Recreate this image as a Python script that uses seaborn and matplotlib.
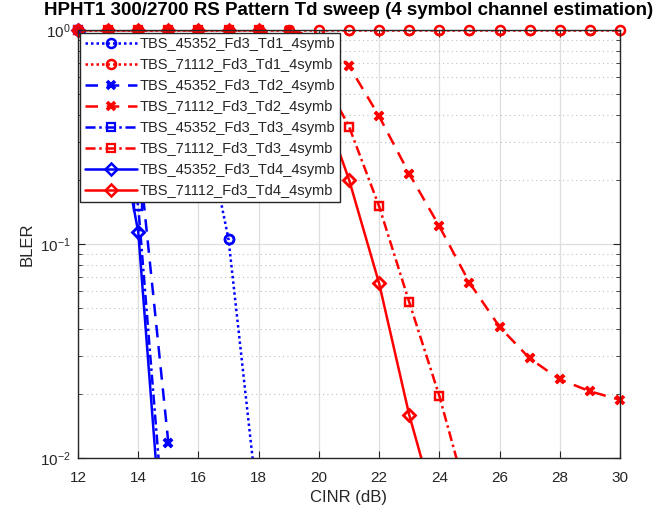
import numpy as np
import pandas as pd
import matplotlib
matplotlib.use("Agg")
import matplotlib.pyplot as plt
import seaborn as sns

# ---------------- data ----------------
title = "HPHT1 300/2700 RS Pattern Td sweep (4 symbol channel estimation)"
xlabel = "CINR (dB)"
ylabel = "BLER"

labels = [
    "TBS_45352_Fd3_Td1_4symb",
    "TBS_71112_Fd3_Td1_4symb",
    "TBS_45352_Fd3_Td2_4symb",
    "TBS_71112_Fd3_Td2_4symb",
    "TBS_45352_Fd3_Td3_4symb",
    "TBS_71112_Fd3_Td3_4symb",
    "TBS_45352_Fd3_Td4_4symb",
    "TBS_71112_Fd3_Td4_4symb",
]

cinr_b_td1 = [12, 13, 14, 15, 16, 17, 18]
bler_b_td1 = [1.0, 1.0, 1.0, 1.0, 0.52, 0.105, 0.0055]

cinr_r_td1 = list(range(12, 31))
bler_r_td1 = [1.0] * 19

cinr_b_td2 = [12, 13, 14, 15]
bler_b_td2 = [1.0, 0.85, 0.28, 0.0118]

cinr_r_td2 = list(range(12, 31))
bler_r_td2 = [1.0, 1.0, 1.0, 1.0, 1.0, 1.0, 1.0, 1.0, 0.92, 0.68, 0.395,
              0.213, 0.121, 0.066, 0.041, 0.0292, 0.0233, 0.0205, 0.0187]

cinr_b_td3 = [12, 13, 14, 15]
bler_b_td3 = [1.0, 0.7, 0.15, 0.0027]

cinr_r_td3 = [12, 13, 14, 15, 16, 17, 18, 19, 20, 21, 22, 23, 24, 25]
bler_r_td3 = [1.0, 1.0, 1.0, 1.0, 1.0, 1.0, 1.0, 0.9, 0.65, 0.354, 0.15,
              0.0535, 0.0195, 0.006]

cinr_b_td4 = [12, 13, 14, 15]
bler_b_td4 = [1.0, 0.64, 0.114, 0.0017]

cinr_r_td4 = [12, 13, 14, 15, 16, 17, 18, 19, 20, 21, 22, 23, 24]
bler_r_td4 = [1.0, 1.0, 1.0, 1.0, 1.0, 1.0, 1.0, 0.85, 0.5, 0.2, 0.0655,
              0.0159, 0.005]

xticks = [12, 14, 16, 18, 20, 22, 24, 26, 28, 30]

series = [
    (cinr_b_td1, bler_b_td1),
    (cinr_r_td1, bler_r_td1),
    (cinr_b_td2, bler_b_td2),
    (cinr_r_td2, bler_r_td2),
    (cinr_b_td3, bler_b_td3),
    (cinr_r_td3, bler_r_td3),
    (cinr_b_td4, bler_b_td4),
    (cinr_r_td4, bler_r_td4),
]

# ---------------- styles ----------------
blue = "#0000ff"
red = "#ff0000"
dot = (0, (1, 1.2))
dash = (0, (5, 3.5))
dashdot = (0, (4, 1.5, 1, 1.5))
styles = [
    dict(color=blue, linestyle=dot, marker="o", ms=6.5, mew=1.8),
    dict(color=red, linestyle=dot, marker="o", ms=6.5, mew=1.8),
    dict(color=blue, linestyle=dash, marker="x", ms=5.5, mew=2.6),
    dict(color=red, linestyle=dash, marker="x", ms=5.5, mew=2.6),
    dict(color=blue, linestyle=dashdot, marker="s", ms=6, mew=1.6),
    dict(color=red, linestyle=dashdot, marker="s", ms=6, mew=1.6),
    dict(color=blue, linestyle="-", marker="D", ms=6, mew=1.8),
    dict(color=red, linestyle="-", marker="D", ms=6, mew=1.8),
]

sns.set_theme(style="ticks")
plt.rcParams["font.family"] = ["Liberation Sans", "DejaVu Sans"]
plt.rcParams["mathtext.default"] = "regular"

fig = plt.figure(figsize=(6.64, 5.14), dpi=100)
ax = fig.add_axes([78 / 664, 56 / 514, 542 / 664, 428 / 514])

ymin = 0.01
for (xs, ys), st, lab in zip(series, styles, labels):
    df = pd.DataFrame({"x": xs, "y": ys})
    sns.lineplot(data=df, x="x", y="y", ax=ax, color=st["color"],
                 linestyle=st["linestyle"], marker=st["marker"],
                 markerfacecolor="none", markeredgecolor=st["color"],
                 markersize=st["ms"], markeredgewidth=st["mew"], linewidth=1.8,
                 label=lab, sort=False, estimator=None)
    vis = df[df["y"] >= ymin]
    sns.lineplot(data=vis, x="x", y="y", ax=ax, color=st["color"],
                 linestyle="", marker=st["marker"],
                 markerfacecolor="none", markeredgecolor=st["color"],
                 markersize=st["ms"], markeredgewidth=st["mew"], clip_on=False,
                 sort=False, estimator=None, legend=False)

ax.set_yscale("log")
ax.set_xlim(12, 30)
ax.set_ylim(0.01, 1)
ax.set_xticks(xticks)
ax.set_xticklabels([str(t) for t in xticks])
ax.yaxis.set_major_locator(matplotlib.ticker.LogLocator(base=10, numticks=5))
ax.yaxis.set_minor_locator(matplotlib.ticker.LogLocator(base=10, subs=np.arange(2, 10), numticks=10))
ax.yaxis.set_minor_formatter(matplotlib.ticker.NullFormatter())

ax.grid(True, which="major", axis="both", color="#dedede", linestyle="-", linewidth=0.9)
ax.grid(True, which="minor", axis="y", color="#bdbdbd", linestyle=(0, (1, 3)), linewidth=0.8)
ax.set_axisbelow(True)

ax.tick_params(axis="both", which="major", direction="in", length=5, width=0.8,
               labelsize=11, top=True, right=True, colors="#262626")
ax.tick_params(axis="x", which="major", pad=9)
ax.tick_params(axis="y", which="major", pad=5)
ax.tick_params(axis="y", which="minor", direction="in", length=3, width=0.6,
               left=True, right=True, colors="#262626")
for sp in ax.spines.values():
    sp.set_visible(True)
    sp.set_linewidth(1.0)
    sp.set_color("#262626")

ax.set_xlabel(xlabel, fontsize=12, color="#262626", labelpad=4)
ax.set_ylabel(ylabel, fontsize=12, color="#262626", labelpad=4)
ax.set_title(title, fontsize=13.5, fontweight="bold", color="black", pad=11)

leg = ax.legend(loc="upper left", bbox_to_anchor=(0.004, 0.994), borderaxespad=0,
                fontsize=10.5, frameon=True, fancybox=False, framealpha=1,
                edgecolor="#262626", handlelength=3.6, handletextpad=0.2,
                labelspacing=0.48, borderpad=0.3)
leg.get_frame().set_linewidth(1.0)
leg.set_zorder(10)

fig.savefig("out.png", dpi=100)
